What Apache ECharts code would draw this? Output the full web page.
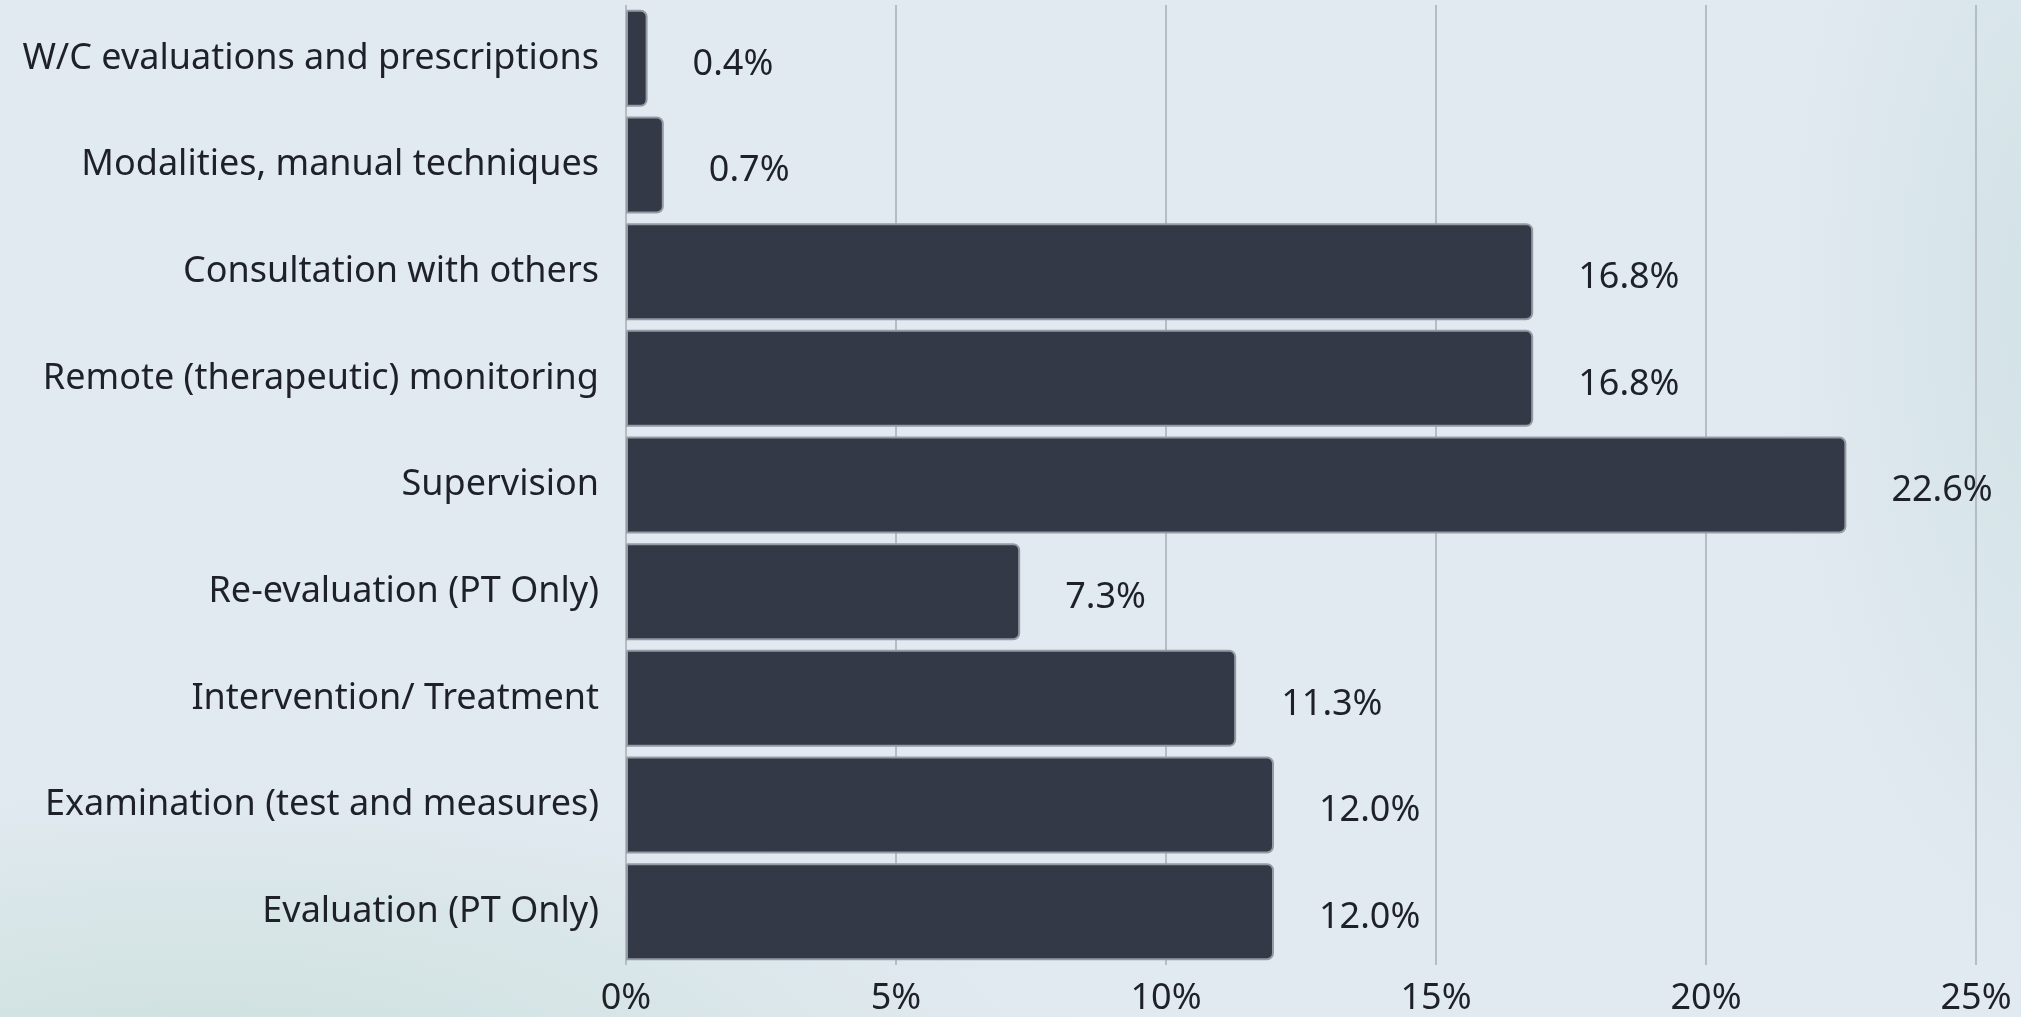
<!DOCTYPE html>
<html>
<head>
<meta charset="utf-8">
<script src="https://cdn.jsdelivr.net/npm/echarts@6/dist/echarts.min.js"></script>
<style>
  html, body { margin: 0; padding: 0; }
  body {
    width: 2021px;
    height: 1017px;
    background:
      radial-gradient(ellipse 900px 300px at 10% 105%, rgba(196, 220, 214, 0.7), rgba(196, 220, 214, 0) 100%),
      radial-gradient(ellipse 300px 700px at 102% 30%, rgba(205, 224, 226, 0.8), rgba(205, 224, 226, 0) 100%),
      #e2eaf1;
  }
  #main-chart { width: 2021px; height: 1017px; }
</style>
</head>
<body>
<div id="main-chart"></div>
<script>
const categories = [
  "W/C evaluations and prescriptions",
  "Modalities, manual techniques",
  "Consultation with others",
  "Remote (therapeutic) monitoring",
  "Supervision",
  "Re-evaluation (PT Only)",
  "Intervention/ Treatment",
  "Examination (test and measures)",
  "Evaluation (PT Only)"
];

const shares = [0.4, 0.7, 16.8, 16.8, 22.6, 7.3, 11.3, 12.0, 12.0];

const xTicks = { min: 0, max: 25, interval: 5 };

const font = "'Noto Sans', 'Open Sans', sans-serif";

const chart = echarts.init(document.getElementById("main-chart"));

chart.setOption({
  backgroundColor: "transparent",
  animation: false,
  grid: { left: 626, right: 45, top: 5, bottom: 50, containLabel: false },
  xAxis: {
    type: "value",
    min: xTicks.min,
    max: xTicks.max,
    interval: xTicks.interval,
    axisLine: { show: false },
    axisTick: { show: false },
    axisLabel: {
      formatter: "{value}%",
      color: "#1e2128",
      fontFamily: font,
      fontSize: 36,
      margin: 16
    },
    splitLine: { lineStyle: { color: "#b6bcc4", width: 2 } }
  },
  yAxis: {
    type: "category",
    inverse: true,
    data: categories,
    axisLine: { show: false },
    axisTick: { show: false },
    axisLabel: {
      color: "#1e2128",
      fontFamily: font,
      fontSize: 36,
      margin: 27,
      padding: [20, 0, 0, 0]
    }
  },
  series: [{
    type: "bar",
    data: shares,
    barCategoryGap: "9%",
    itemStyle: {
      color: "#333947",
      borderColor: "#959ba3",
      borderWidth: 2,
      borderRadius: [0, 6, 6, 0]
    },
    label: {
      show: true,
      position: "right",
      distance: 45,
      offset: [0, 6],
      color: "#1e2128",
      fontFamily: font,
      fontSize: 36,
      formatter: (p) => p.value.toFixed(1) + "%"
    }
  }]
});
</script>
</body>
</html>
